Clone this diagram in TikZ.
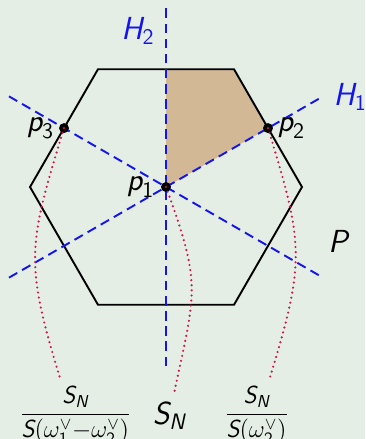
\RequirePackage{fix-cm}
\documentclass[tikz,border=0pt]{standalone}
\usepackage{amsmath}
\usetikzlibrary{positioning}
\definecolor{paper}{RGB}{228,238,228}
\definecolor{chamber}{RGB}{210,184,148}
\definecolor{wall}{RGB}{20,20,240}
\definecolor{orbit}{RGB}{210,20,80}
\newcommand{\sfi}[1]{\text{\sffamily\itshape #1}}
\newcommand{\sfn}[1]{\text{\sffamily #1}}

\begin{document}
\begin{tikzpicture}[
  font=\fontsize{20pt}{24pt}\selectfont,
  edge/.style={black, line width=1.2pt},
  hyper/.style={#1, line width=1.2pt, dash pattern=on 6pt off 3.5pt},
  orbitline/.style={#1, line width=1.5pt, line cap=round, dash pattern=on 0pt off 3.2pt},
  lab/.style={inner sep=1pt},
  fraclab/.style={inner sep=1pt, font=\fontsize{15.5pt}{18pt}\selectfont}
]
\fill[paper] (-3.662,-5.559) rectangle (4.39,4.125);
\useasboundingbox (-3.662,-5.559) rectangle (4.39,4.125);

% points and corners
\coordinate (p1) at (0,0);
\coordinate (p2) at (2.25,1.299);
\coordinate (p3) at (-2.25,1.299);
\coordinate (top) at (0,2.598);
\coordinate (corner) at (60:3);

% chamber
\fill[chamber] (p1) -- (top) -- (corner) -- (p2) -- cycle;

% the polytope P
\draw[edge] (0:3) -- (60:3) -- (120:3) -- (180:3) -- (240:3) -- (300:3) -- cycle;

% walls
\coordinate (h1a) at (210:4);
\coordinate (h1b) at (30:4);
\coordinate (h2a) at (0,-3.95);
\coordinate (h2b) at (0,4.05);
\coordinate (h3a) at (150:4);
\coordinate (h3b) at (-30:4);
\draw[hyper=wall] (h1a) -- (h1b);
\draw[hyper=wall] (h2a) -- (h2b);
\draw[hyper=wall] (h3a) -- (h3b);

\fill (p1) circle (0.11);
\fill (p2) circle (0.11);
\fill (p3) circle (0.11);

% orbits
\coordinate (e1) at (0.18,-4.54);
\coordinate (e2) at (2.29,-4.21);
\coordinate (e3) at (-2.34,-4.21);
\draw[orbitline=orbit] (p1) to[out=-70, in=78, looseness=1.3] (e1);
\draw[orbitline=orbit] (p2) to[out=-73, in=73, looseness=1.25] (e2);
\draw[orbitline=orbit] (p3) to[out=-107, in=107, looseness=1.25] (e3);

% labels
\node[lab, text=wall] (H1) at (4.06,1.99) {$\sfi{H}_{\sfn{1}}$};
\node[lab, text=wall] (H2) at (-0.62,3.44) {$\sfi{H}_{\sfn{2}}$};
\node[lab] (P) at (3.79,-1.21) {$\sfi{P}$};
\node[lab, left=0.22cm of p1] (lp1) {$\sfi{p}_{\sfn{1}}$};
\node[lab, right=0.17cm of p2] (lp2) {$\sfi{p}_{\sfn{2}}$};
\node[lab, left=0.18cm of p3] (lp3) {$\sfi{p}_{\sfn{3}}$};

\node[fraclab] (f1) at (-2.0,-5.04)
  {$\dfrac{\sfi{S}_{\sfi{N}}}{\sfi{S}(\omega_{\sfn{1}}^\vee{-}\omega_{\sfn{2}}^\vee)}$};
\node[lab] (sn) at (0.07,-5.05) {$\sfi{S}_{\sfi{N}}$};
\node[fraclab] (f2) at (2.0,-5.04)
  {$\dfrac{\sfi{S}_{\sfi{N}}}{\sfi{S}(\omega_{\sfn{2}}^\vee)}$};
\end{tikzpicture}
\end{document}
